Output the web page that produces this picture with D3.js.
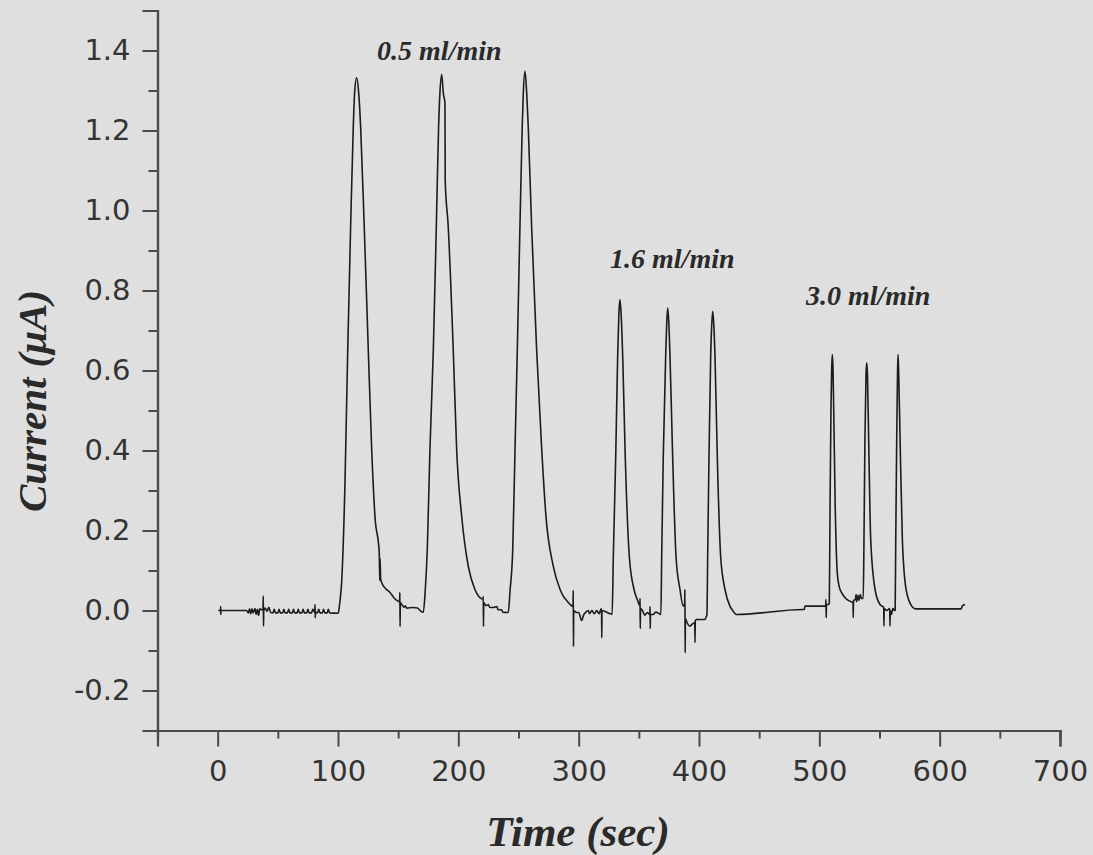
<!DOCTYPE html>
<html>
<head>
<meta charset="utf-8">
<script src="https://cdn.jsdelivr.net/npm/d3@7"></script>
<style>
  html, body { margin: 0; padding: 0; background: #dfdfdf; }
  svg { display: block; }
</style>
</head>
<body>
<svg id="chart"></svg>
<script>
// trace: [time (s), current (uA)]
var baseline = [
  [0.5,0.0],[2.4,0.0],[2.5,0.01],[2.6,-0.01],[2.7,0.0],[24,0.0],[25.5,-0.006],[26.5,0.004],
  [27.5,-0.008],[28.5,0.004],[29.5,-0.006],[31,0.005],[32,-0.01],[33,0.003],[34,-0.012],
  [35,0.004],[36.5,0.002],[37.7,0.005],[37.9,0.036],[38.1,-0.039],[38.3,0.0],[39.5,0.006],
  [41,-0.002],[42.5,0.008],[44,-0.005],[46,-0.006],[47,0.003],[48,-0.006],[50,-0.006],
  [51,0.003],[52,-0.006],[54,-0.006],[55,0.003],[56,-0.006],[58,-0.006],[59,0.003],
  [60,-0.006],[62,-0.006],[63,0.003],[64,-0.006],[66,-0.006],[67,0.003],[68,-0.006],
  [70,-0.006],[71,0.003],[72,-0.006],[74,-0.006],[75,0.003],[76,-0.006],[78,-0.006],
  [79,0.003],[80.7,-0.005],[80.9,0.015],[81.1,-0.018],[81.3,-0.004],[83,-0.006],[84,0.003],
  [85,-0.006],[87,-0.006],[88,0.003],[89,-0.006],[91,-0.006],[92,0.003],[93,-0.006],[99.5,-0.007]
];

var run05 = [
  [100.2,-0.006],[101.5,0.02],[103.0,0.069],[105.8,0.319],[108.0,0.64],[110.5,0.96],[112.7,1.21],
  [113.8,1.294],[115.5,1.332],[117.2,1.294],[118.8,1.21],[121.8,0.96],[125.3,0.64],[128.0,0.4025],
  [130.7,0.236],[134.3,0.144],[134.7,0.075],[135.0,0.13],[135.4,0.08],[136.3,0.07],[139.5,0.055],
  [143.2,0.045],[147,0.03],[151.2,0.022],[151.4,0.045],[151.6,-0.04],[151.8,0.02],[153,0.015],
  [155,0.008],[156,0.012],[157,0.006],[162.3,0.0075],[166,0.006],[169.5,-0.003],
  [170.9,-0.004],[172.5,0.05],[174.2,0.1525],[176.4,0.4025],[179.2,0.65],[181.7,0.96],
  [183.6,1.21],[184.7,1.294],[186.2,1.34],[187.5,1.294],[188.9,1.269],[189.1,1.075],
  [191.6,0.96],[195.8,0.65],[198.6,0.4025],[202.8,0.235],[208.3,0.11],[213.8,0.0525],
  [217,0.035],[220.5,0.028],[220.7,0.035],[220.9,-0.04],[221.1,0.02],[223,0.012],[225,0.015],
  [226,0.008],[229.0,0.0075],[232,0.01],[233,0.002],[236,0.002],[237,-0.004],[240.2,-0.005],
  [241.5,-0.005],[243,0.05],[245.2,0.1525],[247.1,0.4025],[249.0,0.65],[251.2,0.96],
  [253.1,1.21],[254.0,1.294],[255.4,1.348],[256.8,1.294],[258.1,1.21],[260.9,0.96],
  [265.1,0.65],[269.3,0.4025],[272.8,0.236],[278.9,0.111],[284.5,0.053],[287.2,0.036],
  [290,0.025],[293,0.015],[295.3,0.01],[295.5,0.05],[295.7,-0.09],[295.9,0.0],[298,-0.005],
  [300,-0.005],[302.5,-0.025],[304,-0.012],[306,-0.004],[308,0.0],[309,-0.008],[311,0.0],
  [313,-0.008],[315,0.0],[317,-0.008],[318,0.0],[319.0,0.005],[319.2,-0.068],[319.4,0.0],
  [323,-0.004],[326,-0.008],[327.4,-0.008]
];

var run16 = [
  [327.8,-0.01],[328.8,0.135],[330.8,0.385],[332.4,0.635],[333.4,0.74],[334.3,0.7775],
  [335.3,0.74],[336.6,0.635],[338.7,0.385],[342.1,0.135],[346.0,0.0525],[349,0.025],
  [350.9,0.012],[351.0,0.03],[351.2,-0.045],[351.4,0.005],[353,0.0],[355,-0.012],[357,-0.005],
  [359.1,-0.01],[359.3,0.01],[359.5,-0.045],[359.7,-0.01],[362,-0.01],[364,-0.004],[367.0,-0.008],
  [368.3,-0.01],[369.0,0.135],[370.3,0.385],[372.3,0.635],[373.2,0.72],[374.0,0.757],
  [374.9,0.72],[375.9,0.635],[378.1,0.385],[380.9,0.135],[384.2,0.0525],[386.9,0.011],
  [388.1,0.02],[388.3,0.0525],[388.5,-0.106],[388.7,-0.02],[390,-0.03],[392.5,-0.039],
  [394,-0.035],[396.5,-0.03],[396.7,-0.08],[396.9,-0.025],[398.1,-0.0225],[405.0,-0.0225],
  [406.0,-0.015],[406.6,-0.01],[407.2,0.135],[408.3,0.385],[409.7,0.635],[410.6,0.715],
  [411.4,0.748],[412.3,0.715],[413.3,0.635],[415.2,0.385],[418.0,0.135],[421.6,0.0525],
  [425.7,0.011],[428,0.0],[429.9,-0.008],[431,-0.01],[486.7,0.0025],[487.5,0.0025],
  [488.1,0.011],[504.7,0.011],[505.3,0.011],[505.5,0.0275],[505.7,-0.018],[505.9,0.015],
  [507.5,0.015]
];

var run30 = [
  [508.3,0.019],[508.9,0.26],[509.7,0.51],[510.3,0.61],[510.8,0.64],[511.3,0.61],[511.9,0.51],
  [513.2,0.26],[514.9,0.094],[516.5,0.06],[518.6,0.044],[522,0.03],[525.5,0.023],[528.0,0.02],
  [528.2,-0.018],[528.4,0.025],[530,0.028],[530.5,0.04],[531,0.022],[532,0.038],[533,0.025],
  [534,0.04],[535,0.03],[536.0,0.03],[536.5,0.03],[537.1,0.1775],[537.9,0.4275],[538.8,0.59],
  [539.4,0.619],[540.0,0.59],[541.0,0.4275],[542.7,0.1775],[546.3,0.0525],[550.4,0.015],
  [553.5,0.008],[553.7,-0.039],[553.9,0.005],[556,0.0],[558.5,0.005],[558.7,-0.039],
  [558.9,0.0],[560,-0.01],[561,0.005],[562.5,0.0],[563.0,0.0],[563.5,0.1775],[564.3,0.4275],
  [565.0,0.6],[565.4,0.64],[565.9,0.6],[567.1,0.4275],[569.0,0.1775],[572.1,0.0525],
  [576.8,0.011],[580,0.004],[616.9,0.004],[618,0.005],[619,0.012],[621.1,0.015]
];

var flowLabels = ["0.5 ml/min", "1.6 ml/min", "3.0 ml/min"];
var flowLabelAt = [[132.5, 1.377], [326.1, 0.8575], [488.9, 0.765]];

var xMajor = [0, 100, 200, 300, 400, 500, 600, 700];
var xMinor = [-50, 50, 150, 250, 350, 450, 550, 650];
var yMajor = [-0.2, 0.0, 0.2, 0.4, 0.6, 0.8, 1.0, 1.2, 1.4];
var yMinor = [-0.3, -0.1, 0.1, 0.3, 0.5, 0.7, 0.9, 1.1, 1.3, 1.5];

var width = 1093, height = 855;
var axisColor = "#4a4a4a", textColor = "#333";

var svg = d3.select("#chart")
    .attr("width", width)
    .attr("height", height)

svg.append("rect")
    .attr("width", width)
    .attr("height", height)
    .attr("fill", "#dfdfdf")

var x = d3.scaleLinear().domain([-50, 700]).range([157.5, 1060])
var y = d3.scaleLinear().domain([-0.3, 1.5]).range([730.5, 10.5])

// plain hyphen for negatives, like the original
var fmtY = d => d.toFixed(1).replace("\u2212", "-")

// x axis
var gx = svg.append("g").attr("transform", "translate(0," + y(-0.3) + ")")
gx.call(d3.axisBottom(x).tickValues(xMajor).tickSize(16).tickPadding(14).tickFormat(d3.format("d")))
gx.append("g").call(d3.axisBottom(x).tickValues(xMinor).tickSize(8).tickFormat(""))

// y axis
var gy = svg.append("g").attr("transform", "translate(" + x(-50) + ",0)")
gy.call(d3.axisLeft(y).tickValues(yMajor).tickSize(15).tickPadding(12).tickFormat(fmtY))
gy.append("g").call(d3.axisLeft(y).tickValues(yMinor).tickSize(9).tickFormat(""))

svg.selectAll(".domain")
    .attr("stroke", axisColor)
    .attr("stroke-width", 2.2)
svg.selectAll(".tick line")
    .attr("stroke", axisColor)
    .attr("stroke-width", 2)
svg.selectAll(".tick text")
    .attr("fill", textColor)
    .style("font-family", "'DejaVu Sans', Arial, sans-serif")
    .style("font-size", "29px")
gx.selectAll(".tick text").attr("dy", "0.71em")

// trace
var trace = baseline.concat(run05, run16, run30)
var line = d3.line()
    .x(d => x(d[0]))
    .y(d => y(d[1]))
    .curve(d3.curveMonotoneX)

svg.append("path")
    .datum(trace)
    .attr("d", line)
    .attr("fill", "none")
    .attr("stroke", "#1c1c1c")
    .attr("stroke-width", 1.6)
    .attr("stroke-linejoin", "round")

// flow rate labels
svg.selectAll(".flow")
    .data(flowLabels)
    .enter().append("text")
    .attr("class", "flow")
    .attr("x", (d, i) => x(flowLabelAt[i][0]))
    .attr("y", (d, i) => y(flowLabelAt[i][1]))
    .text(d => d)
    .style("font-family", "'Liberation Serif', 'Times New Roman', serif")
    .style("font-weight", "bold")
    .style("font-style", "italic")
    .style("font-size", "28px")
    .attr("fill", "#2a2a2a")

// axis titles
svg.append("text")
    .attr("x", 578)
    .attr("y", 846)
    .attr("text-anchor", "middle")
    .text("Time (sec)")
    .style("font-family", "'Liberation Serif', 'Times New Roman', serif")
    .style("font-weight", "bold")
    .style("font-style", "italic")
    .style("font-size", "43px")
    .attr("fill", "#2a2a2a")

svg.append("text")
    .attr("transform", "translate(46,401) rotate(-90)")
    .attr("text-anchor", "middle")
    .text("Current (\u03bcA)")
    .style("font-family", "'Liberation Serif', 'Times New Roman', serif")
    .style("font-weight", "bold")
    .style("font-style", "italic")
    .style("font-size", "41px")
    .attr("fill", "#2a2a2a")
</script>
</body>
</html>
